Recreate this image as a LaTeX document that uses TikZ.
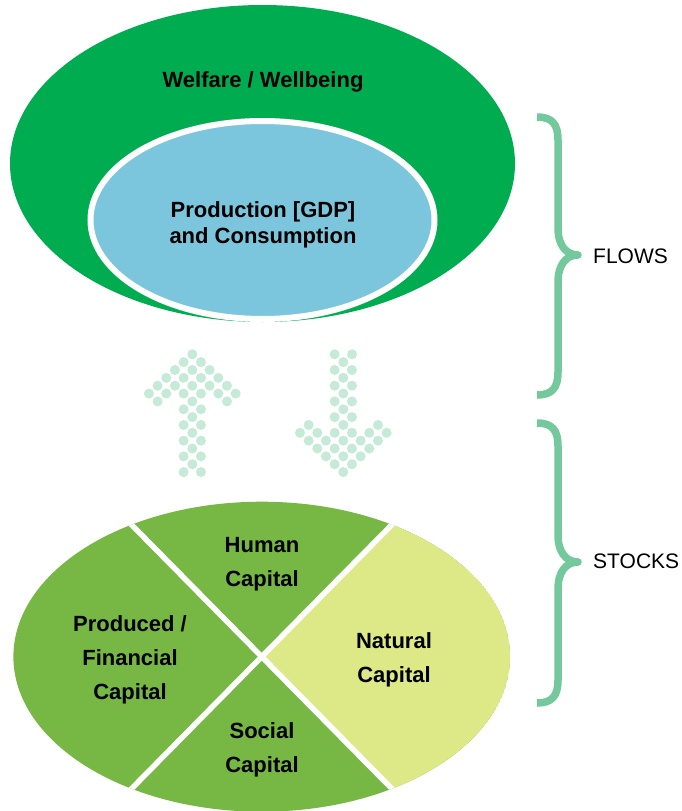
\documentclass[tikz,border=0pt]{standalone}
\usepackage{fontspec}
\setmainfont{Liberation Sans}
\usetikzlibrary{calc}
\definecolor{welfgreen}{HTML}{00AC50}
\definecolor{gdpblue}{HTML}{7BC6DD}
\definecolor{capgreen}{HTML}{76B843}
\definecolor{natpale}{HTML}{DDE887}
\definecolor{dotc}{HTML}{C5EAD7}
\definecolor{bracec}{HTML}{73C99B}
\begin{document}
\begin{tikzpicture}[x=1pt,y=-1pt,
  toplab/.style={font=\fontsize{22}{26.3}\selectfont\bfseries, align=center, inner sep=0pt},
  lab/.style={font=\fontsize{22}{34}\selectfont\bfseries, align=center, inner sep=0pt},
  sidelab/.style={font=\fontsize{21}{25}\selectfont, anchor=west, inner sep=0pt},
  bracestyle/.style={draw=bracec, line width=7.5pt, line join=round}]
\useasboundingbox (0,0) rectangle (682,811);

% flows: welfare and production
\fill[welfgreen] (262.5,163.5) ellipse [x radius=252.5pt, y radius=158.5pt];
\filldraw[fill=gdpblue, draw=white, line width=6pt] (262.5,220) ellipse [x radius=172pt, y radius=99pt];
\node[toplab] (welfare) at (263,81.4) {Welfare / Wellbeing};
\node[toplab] (gdp) at (263,224.6) {Production [GDP]\\and Consumption};

% dotted arrows
\foreach \r/\cs in {0/{0},1/{-1,1},2/{-2,0,2},3/{-3,-1,1,3},4/{-4,-2,0,2,4},5/{-5,-3,-1,1,3,5},6/{-4,0,4},7/{-1,1},8/{0},9/{-1,1},10/{0},11/{-1,1},12/{0},13/{-1,1},14/{0},15/{-1,1}}{
  \foreach \c in \cs {
    \fill[dotc] ({192.3+\c*8.67},{354.3+\r*7.85}) circle (5pt);
    \fill[dotc] ({343.3+\c*8.67},{354.3+(15-\r)*7.85}) circle (5pt);
  }
}

% stocks: capitals
\coordinate (cc) at (261.7,656.7);
\begin{scope}
  \clip (cc) ellipse [x radius=248.3pt, y radius=155pt];
  \fill[capgreen] (cc) ellipse [x radius=248.3pt, y radius=155pt];
  \fill[natpale] (cc) -- (661.7,251.1) -- (661.7,1062.3) -- cycle;
  \draw[white, line width=5.5pt] (-38.3,352.5) -- (561.7,960.9);
  \draw[white, line width=5.5pt] (-38.3,960.9) -- (561.7,352.5);
\end{scope}
\node[lab] (human) at (262,564.5) {Human\\Capital};
\node[lab] (produced) at (130,659.6) {Produced /\\Financial\\Capital};
\node[lab] (natural) at (394,660) {Natural\\Capital};
\node[lab] (social) at (262,749.5) {Social\\Capital};

% braces
\draw[bracestyle] (537,117) .. controls (552,117) and (558,124) .. (558,140) -- (558,228)
  .. controls (558,245) and (566,255) .. (578,255)
  .. controls (566,255) and (558,265) .. (558,282) -- (558,372)
  .. controls (558,388) and (552,395) .. (537,395);
\draw[bracestyle] (537,423) .. controls (552,423) and (558,430) .. (558,446) -- (558,535)
  .. controls (558,552) and (566,562) .. (578,562)
  .. controls (566,562) and (558,572) .. (558,589) -- (558,680)
  .. controls (558,696) and (552,703) .. (537,703);
\node[sidelab] (flows) at (593,256.7) {FLOWS};
\node[sidelab] (stocks) at (593,561.7) {STOCKS};
\end{tikzpicture}
\end{document}
